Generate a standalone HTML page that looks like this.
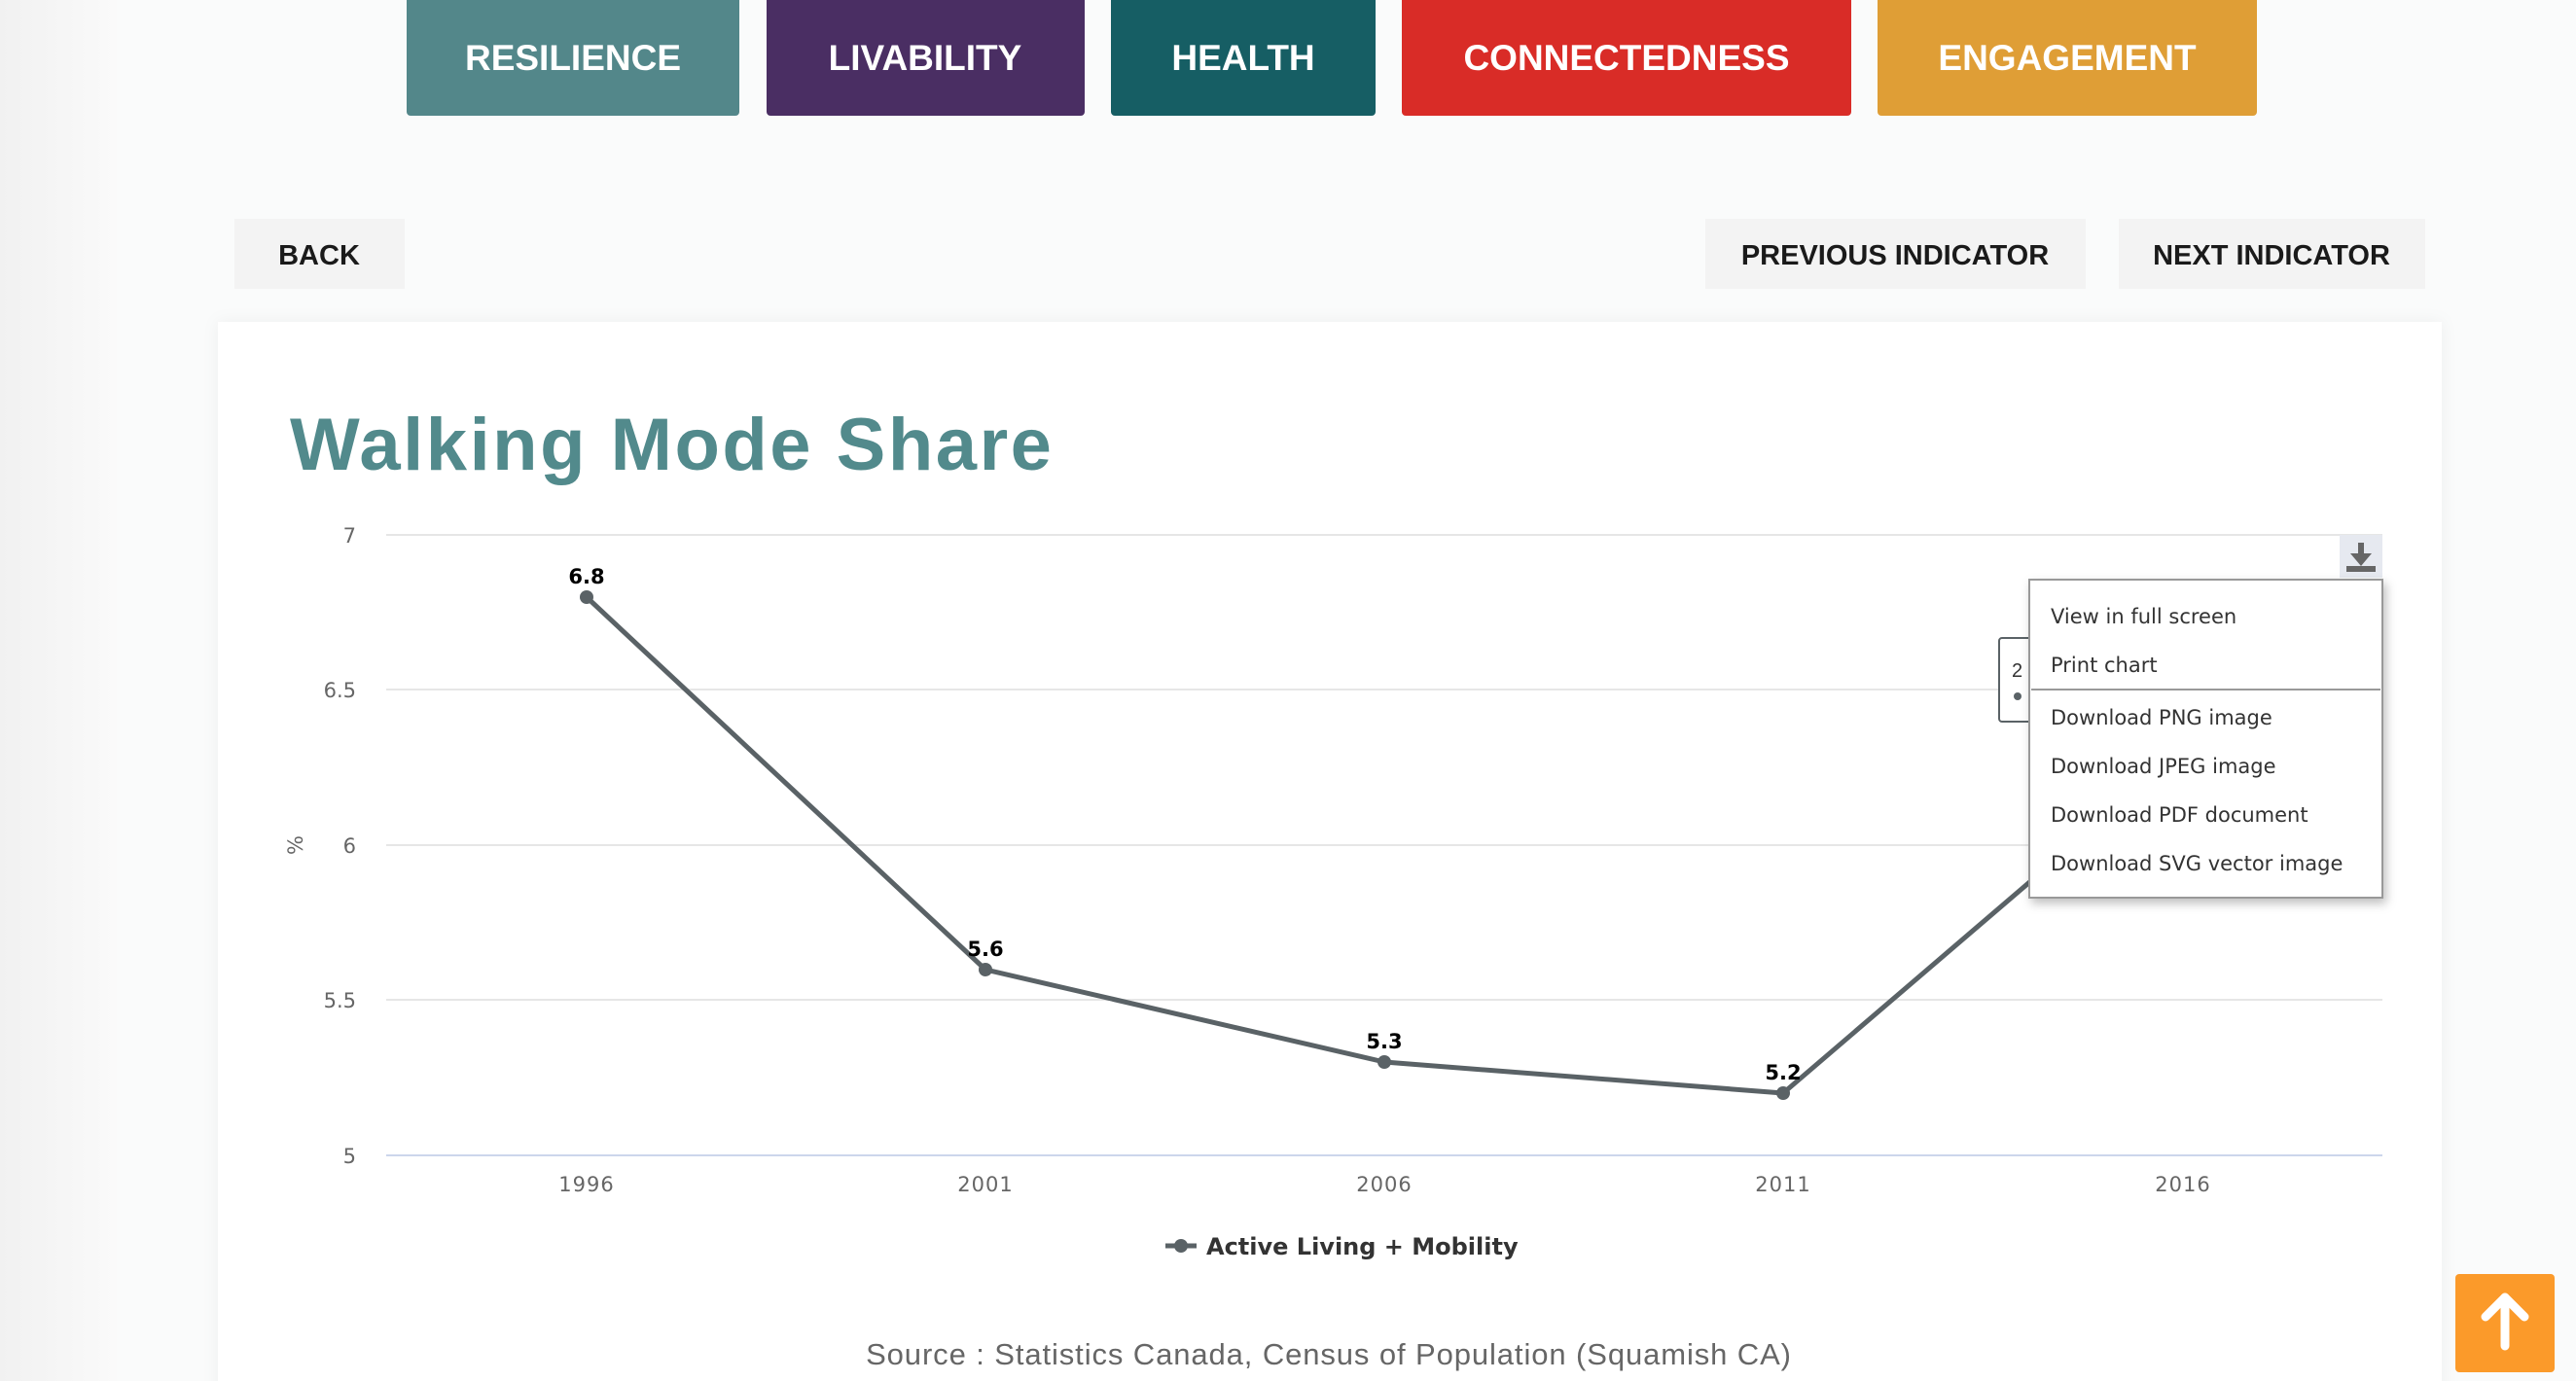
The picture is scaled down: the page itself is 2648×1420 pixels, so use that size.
<!DOCTYPE html>
<html><head><meta charset="utf-8"><style>
html,body{margin:0;padding:0;background:#fafafa;}
svg{display:block;font-family:"Liberation Sans",sans-serif;}
</style></head><body>
<svg width="2648" height="1420" viewBox="0 0 2648 1420" xmlns="http://www.w3.org/2000/svg">
<defs>
<linearGradient id="lg" x1="0" x2="1"><stop offset="0" stop-color="#f1f1f1"/><stop offset="1" stop-color="#fafafa"/></linearGradient>
<filter id="sh" x="-10%" y="-10%" width="130%" height="130%"><feDropShadow dx="3" dy="5" stdDeviation="5" flood-color="#000" flood-opacity="0.25"/></filter>
<filter id="cs" x="-5%" y="-5%" width="110%" height="110%"><feDropShadow dx="0" dy="0" stdDeviation="8" flood-color="#000" flood-opacity="0.05"/></filter>
</defs>
<rect width="2648" height="1420" fill="#fafbfb"/>
<rect width="120" height="1420" fill="url(#lg)"/>
<g font-weight="bold" font-size="37" fill="#fff" text-anchor="middle">
<rect x="418" y="-6" width="342" height="125" rx="4" fill="#53878a"/><text x="589" y="72">RESILIENCE</text>
<rect x="788" y="-6" width="327" height="125" rx="4" fill="#4a2e63"/><text x="951" y="72">LIVABILITY</text>
<rect x="1142" y="-6" width="272" height="125" rx="4" fill="#165e64"/><text x="1278" y="72">HEALTH</text>
<rect x="1441" y="-6" width="462" height="125" rx="4" fill="#d92c27"/><text x="1672" y="72">CONNECTEDNESS</text>
<rect x="1930" y="-6" width="390" height="125" rx="4" fill="#df9e36"/><text x="2125" y="72">ENGAGEMENT</text>
</g>
<g font-weight="bold" font-size="29" fill="#1a1a1a" text-anchor="middle">
<rect x="241" y="225" width="175" height="72" fill="#f3f3f3"/><text x="328" y="272">BACK</text>
<rect x="1753" y="225" width="391" height="72" fill="#f3f3f3"/><text x="1948" y="272">PREVIOUS INDICATOR</text>
<rect x="2178" y="225" width="315" height="72" fill="#f3f3f3"/><text x="2335" y="272">NEXT INDICATOR</text>
</g>
<rect x="224" y="331" width="2286" height="1120" fill="#fff" filter="url(#cs)"/>
<text x="298" y="483" font-size="76" font-weight="bold" fill="#528a8c" letter-spacing="2.5">Walking Mode Share</text>
<g stroke="#e6e6e6" stroke-width="2">
<line x1="397" y1="550" x2="2449" y2="550"/>
<line x1="397" y1="709" x2="2449" y2="709"/>
<line x1="397" y1="869" x2="2449" y2="869"/>
<line x1="397" y1="1028" x2="2449" y2="1028"/>
</g>
<line x1="397" y1="1188" x2="2449" y2="1188" stroke="#ccd6eb" stroke-width="2"/>
<g font-family="DejaVu Sans,sans-serif" font-size="21" fill="#666" text-anchor="end">
<text x="366" y="558">7</text><text x="366" y="717">6.5</text><text x="366" y="877">6</text><text x="366" y="1036">5.5</text><text x="366" y="1196">5</text>
</g>
<text transform="translate(311,869) rotate(-90)" font-family="DejaVu Sans,sans-serif" font-size="21" fill="#666" text-anchor="middle">%</text>
<g font-family="DejaVu Sans,sans-serif" font-size="21" fill="#666" text-anchor="middle" letter-spacing="1">
<text x="603" y="1225">1996</text><text x="1013" y="1225">2001</text><text x="1423" y="1225">2006</text><text x="1833" y="1225">2011</text><text x="2244" y="1225">2016</text>
</g>
<polyline points="603,614 1013,997 1423,1092 1833,1124 2244,772" fill="none" stroke="#5a6266" stroke-width="5" stroke-linejoin="round"/>
<g fill="#5a6266"><circle cx="603" cy="614" r="7"/><circle cx="1013" cy="997" r="7"/><circle cx="1423" cy="1092" r="7"/><circle cx="1833" cy="1124" r="7"/></g>
<g font-family="DejaVu Sans,sans-serif" font-size="21" font-weight="bold" fill="#000" text-anchor="middle">
<text x="603" y="600">6.8</text><text x="1013" y="983">5.6</text><text x="1423" y="1078">5.3</text><text x="1833" y="1110">5.2</text>
</g>
<line x1="1198" y1="1281" x2="1230" y2="1281" stroke="#5a6266" stroke-width="5"/>
<circle cx="1214" cy="1281" r="7" fill="#5a6266"/>
<text x="1240" y="1290" font-family="DejaVu Sans,sans-serif" font-size="24" font-weight="bold" fill="#333">Active Living + Mobility</text>
<text x="1366" y="1403" font-size="31" fill="#666" text-anchor="middle" letter-spacing="0.9">Source : Statistics Canada, Census of Population (Squamish CA)</text>
<rect x="2055" y="656" width="60" height="86" rx="3" fill="#fff" stroke="#5a6266" stroke-width="2"/>
<text x="2068" y="696" font-size="20" fill="#333">2</text><circle cx="2074" cy="716" r="4" fill="#5a6266"/>
<rect x="2405" y="550" width="44" height="44" fill="#e6e9f0"/>
<g fill="#666"><rect x="2424" y="558" width="6" height="14"/><polygon points="2416,569 2438,569 2427,582"/><rect x="2412" y="582" width="30" height="6"/></g>
<rect x="2086" y="596" width="363" height="327" fill="#fff" stroke="#999" stroke-width="2" filter="url(#sh)"/>
<line x1="2088" y1="709" x2="2447" y2="709" stroke="#999" stroke-width="2"/>
<g font-family="DejaVu Sans,sans-serif" font-size="21" fill="#333">
<text x="2108" y="641">View in full screen</text>
<text x="2108" y="691">Print chart</text>
<text x="2108" y="745">Download PNG image</text>
<text x="2108" y="795">Download JPEG image</text>
<text x="2108" y="845">Download PDF document</text>
<text x="2108" y="895">Download SVG vector image</text>
</g>
<rect x="2524" y="1310" width="102" height="101" rx="4" fill="#fb9a2a"/>
<g stroke="#fff" stroke-width="9" stroke-linecap="round" stroke-linejoin="round" fill="none">
<line x1="2575" y1="1334" x2="2575" y2="1384"/><polyline points="2555,1354 2575,1334 2595,1354"/></g>
</svg>
</body></html>
